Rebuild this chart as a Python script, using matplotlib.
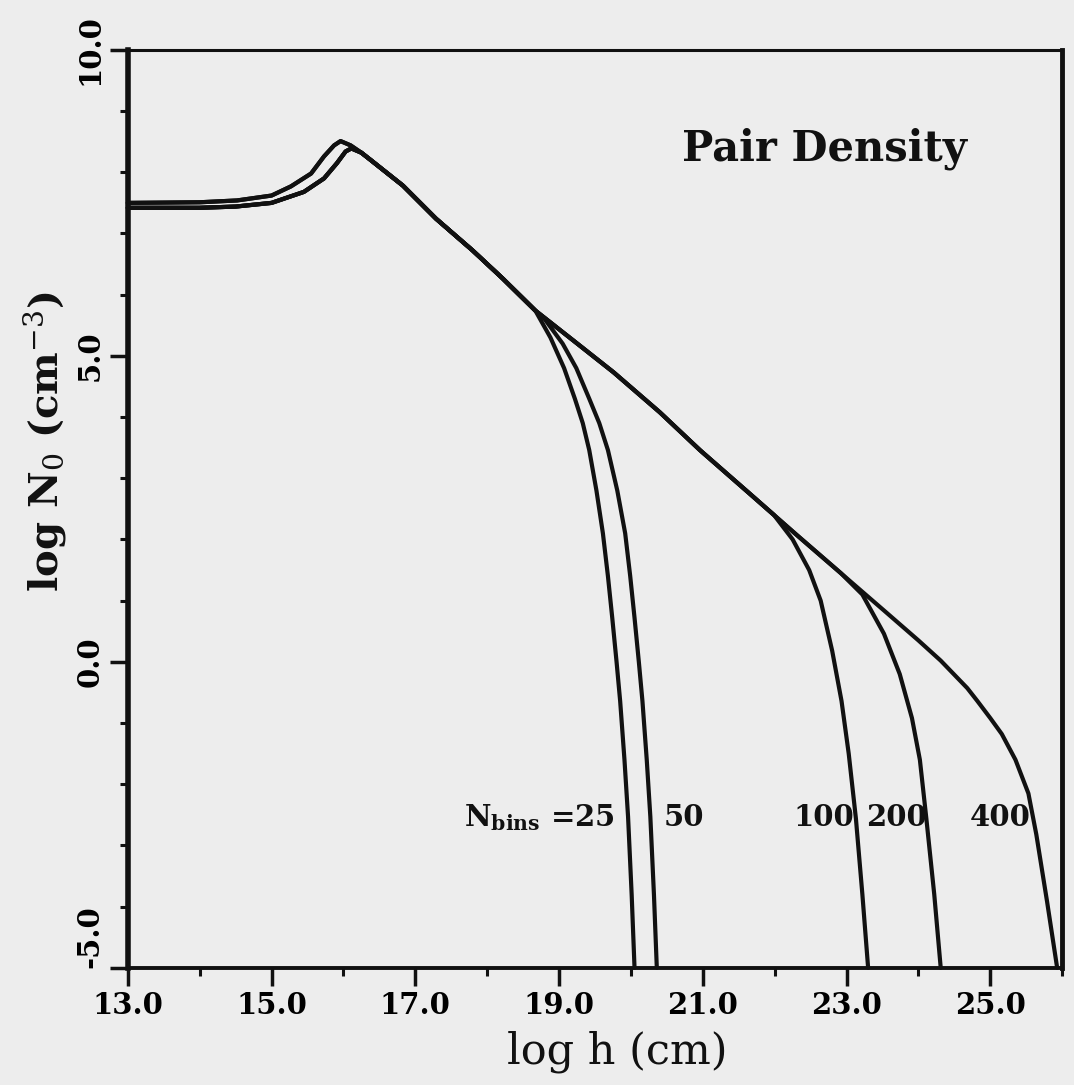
import numpy as np
import matplotlib
matplotlib.use('Agg')
from matplotlib import pyplot as plt
from matplotlib.ticker import MultipleLocator

plt.rcParams['font.family'] = ['DejaVu Serif']
plt.rcParams['mathtext.fontset'] = 'dejavuserif'

# plateau + peak, two slightly different starts
head_hi_x = [13.0, 14.0, 14.52, 15.0, 15.27, 15.55, 15.73, 15.87, 15.96, 16.1, 16.25]
head_hi_y = [7.50, 7.51, 7.54, 7.62, 7.77, 7.98, 8.26, 8.44, 8.51, 8.44, 8.32]
head_lo_x = [13.0, 14.0, 14.5, 15.0, 15.45, 15.73, 15.91, 16.03, 16.11, 16.25]
head_lo_y = [7.42, 7.42, 7.44, 7.50, 7.68, 7.90, 8.15, 8.34, 8.39, 8.32]

# common descent
trunk_x = [16.38, 16.83, 17.29, 17.8, 18.22, 18.67]
trunk_y = [8.20, 7.78, 7.24, 6.72, 6.26, 5.74]
stem_x = [19.2, 19.76, 20.4, 20.96, 21.68]
stem_y = [5.25, 4.73, 4.08, 3.46, 2.72]
mid_x = [22.3, 22.92]
mid_y = [2.08, 1.45]

# where each curve leaves the common line
tail_x = {
    25: [18.88, 19.07, 19.22, 19.33, 19.42, 19.52, 19.61, 19.68, 19.74, 19.8,
         19.85, 19.91, 19.96, 20.01, 20.05],
    50: [18.8, 19.05, 19.24, 19.42, 19.56, 19.68, 19.81, 19.92, 19.99, 20.05,
         20.11, 20.16, 20.22, 20.27, 20.32, 20.36],
    100: [21.99, 22.25, 22.48, 22.64, 22.8, 22.93, 23.03, 23.13, 23.22, 23.3],
    200: [23.22, 23.52, 23.74, 23.91, 24.02, 24.11, 24.22, 24.31],
    400: [23.52, 24.0, 24.31, 24.68, 24.82, 25.0, 25.16, 25.35, 25.53, 25.64,
          25.79, 25.93],
}
tail_y = {
    25: [5.3, 4.8, 4.3, 3.9, 3.46, 2.8, 2.1, 1.4, 0.72, 0.0, -0.64, -1.6,
         -2.53, -3.8, -5.0],
    50: [5.6, 5.2, 4.8, 4.3, 3.9, 3.46, 2.8, 2.1, 1.4, 0.72, 0.0, -0.64,
         -1.6, -2.53, -3.8, -5.0],
    100: [2.4, 2.0, 1.5, 1.0, 0.18, -0.64, -1.5, -2.56, -3.8, -5.0],
    200: [1.1, 0.46, -0.2, -0.92, -1.6, -2.56, -3.8, -5.0],
    400: [0.84, 0.35, 0.02, -0.43, -0.64, -0.92, -1.18, -1.6, -2.15, -2.82,
          -3.92, -5.0],
}

nbins = [25, 50, 100, 200, 400]
labels = ['$\\mathbf{N_{bins}}$ =25', '50', '100', '200', '400']
label_x = [19.77, 20.74, 22.69, 23.69, 25.14]
label_y = -2.55

fig = plt.figure(figsize=(10.74, 10.85), dpi=100, facecolor='#ededed')
ax = fig.add_axes([0.119, 0.108, 0.870, 0.846])
ax.set_facecolor('#ededed')

for n in nbins:
    if n < 100:
        hx, hy = head_hi_x, head_hi_y
    else:
        hx, hy = head_lo_x, head_lo_y
    xs = hx + trunk_x
    ys = hy + trunk_y
    if n >= 100:
        xs = xs + stem_x
        ys = ys + stem_y
    if n >= 200:
        xs = xs + mid_x
        ys = ys + mid_y
    xs = xs + tail_x[n]
    ys = ys + tail_y[n]
    ax.plot(xs, ys, color='#111111', lw=3.0, solid_joinstyle='round',
            solid_capstyle='round', clip_on=False)

for lab, lx in zip(labels, label_x):
    ha = 'right' if lab.startswith('$') else 'center'
    ax.text(lx, label_y, lab, ha=ha, va='center', fontsize=21,
            fontweight='bold', color='#111111')

ax.text(22.69, 8.39, 'Pair Density', ha='center', va='center',
        fontsize=30, fontweight='bold', color='#111111')

ax.set_xlim(13, 26)
ax.set_ylim(-5, 10)
ax.xaxis.set_minor_locator(MultipleLocator(1))
ax.yaxis.set_minor_locator(MultipleLocator(1))
ax.set_xticks(np.arange(13, 26, 2))
ax.set_xticklabels(['%.1f' % v for v in np.arange(13, 26, 2)],
                   fontsize=21, fontweight='bold')
ax.set_yticks([-5, 0, 5, 10])
ylabs = ax.set_yticklabels(['-5.0', '0.0', '5.0', '10.0'], fontsize=21,
                           fontweight='bold', rotation=90, va='center')
ylabs[0].set_va('bottom')

ax.tick_params(which='major', direction='out', length=13, width=2.5,
               color='#111111', pad=4, top=False, right=False)
ax.tick_params(which='minor', direction='out', length=6, width=2.2,
               color='#111111', top=False, right=False)

ax.spines['left'].set_linewidth(4.0)
ax.spines['bottom'].set_linewidth(2.8)
ax.spines['right'].set_linewidth(3.5)
ax.spines['top'].set_linewidth(2.2)
for s in ax.spines.values():
    s.set_color('#111111')

ax.set_xlabel('log h (cm)', fontsize=31, color='#111111')
ax.set_ylabel('log N$_0$ (cm$^{-3}$)', fontsize=29, fontweight='bold',
              color='#111111')
ax.xaxis.set_label_coords(0.524, -0.068)
ax.yaxis.set_label_coords(-0.064, 0.573)

plt.savefig('out.png', dpi=100, facecolor=fig.get_facecolor())
